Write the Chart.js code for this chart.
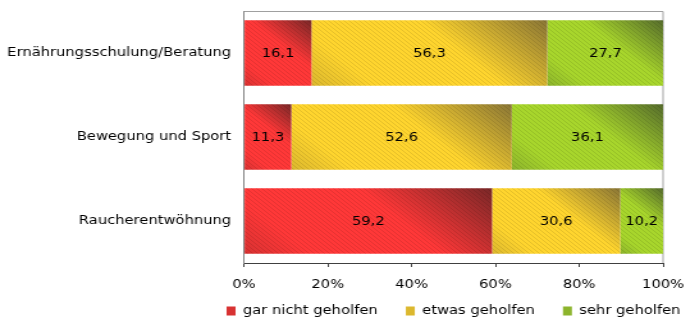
<!DOCTYPE html>
<html>
<head>
<meta charset="utf-8">
<script src="https://cdn.jsdelivr.net/npm/chart.js@4.4.1/dist/chart.umd.min.js"></script>
<style>
  html, body { margin: 0; padding: 0; background: #fff; overflow: hidden; width: 699px; height: 318px; }
  /* the original is stretched sideways, so draw narrow and widen */
  #wrap { position: relative; width: 546px; height: 347.3px; transform: scaleX(1.28); transform-origin: 0 0; }
</style>
</head>
<body>
<div id="wrap"><canvas id="myChart"></canvas></div>
<script>
const categories = ['Ernährungsschulung/Beratung', 'Bewegung und Sport', 'Raucherentwöhnung'];
const seriesNames = ['gar nicht geholfen', 'etwas geholfen', 'sehr geholfen'];
const garNicht = [16.1, 11.3, 59.2];
const etwas    = [56.3, 52.6, 30.6];
const sehr     = [27.7, 36.1, 10.2];
const tickLabels = ['0%', '20%', '40%', '60%', '80%', '100%'];

const seriesData = [garNicht, etwas, sehr];
const palette = [
  { light: '#ff3838', dark: '#7a2828', mid: '#d83232' },
  { light: '#ffd52e', dark: '#8a7636', mid: '#dcb82e' },
  { light: '#a8d62c', dark: '#566c2c', mid: '#8cb42c' },
];
const FONT = '"DejaVu Sans", Verdana, sans-serif';
const FSIZE = 11.5;

Chart.defaults.font.family = FONT;
Chart.defaults.font.size = FSIZE;
Chart.defaults.color = '#000';

// diagonal gradient per bar, positions from the scales
function barFill(c) {
  const p = palette[c.datasetIndex];
  if (c.type !== 'data') return p.mid;
  const chart = c.chart;
  const xs = chart.scales.x, ys = chart.scales.y;
  if (!chart.chartArea || !xs || !ys) return p.light;
  let start = 0;
  for (let d = 0; d < c.datasetIndex; d++) start += seriesData[d][c.dataIndex];
  const x0 = xs.getPixelForValue(start);
  const x1 = xs.getPixelForValue(start + seriesData[c.datasetIndex][c.dataIndex]);
  const yc = ys.getPixelForValue(c.dataIndex);
  const h = (ys.bottom - ys.top) / categories.length * 0.78;
  const L = (x1 - x0 + h) / 2;
  const g = chart.ctx.createLinearGradient(x0, yc + h / 2, x0 + L, yc + h / 2 - L);
  g.addColorStop(0, p.mid);
  g.addColorStop(0.2, p.light);
  g.addColorStop(0.6, p.light);
  g.addColorStop(1, p.dark);
  return g;
}

let texture = null;
function getTexture(ctx) {
  if (texture) return texture;
  const cv = document.createElement('canvas');
  cv.width = 4; cv.height = 4;
  const t = cv.getContext('2d');
  t.fillStyle = 'rgba(0,0,0,0.10)';
  for (let i = 0; i < 4; i++) t.fillRect(i, i, 1, 1);
  texture = ctx.createPattern(cv, 'repeat');
  return texture;
}

const framePlugin = {
  id: 'frame',
  afterLayout(chart) {
    // legend centred under the plot area, like the original
    const lg = chart.legend;
    const a = chart.chartArea;
    const dx = (a.left + a.right) / 2 - (lg.left + lg.right) / 2;
    lg.left += dx; lg.right += dx;
    const pad = lg.options.labels.padding;
    const h = lg.bottom - lg.top;
    lg.top = 311 - FSIZE / 2 - pad;
    lg.bottom = lg.top + h;
  },
  beforeDatasetsDraw(chart) {
    const { ctx, chartArea: a } = chart;
    ctx.save();
    ctx.strokeStyle = '#a0a0a0';
    ctx.lineWidth = 1;
    ctx.beginPath();
    ctx.moveTo(a.left, a.top + 0.5);
    ctx.lineTo(a.right, a.top + 0.5);
    ctx.lineTo(a.right, a.bottom);
    ctx.stroke();
    ctx.restore();
  }
};

const labelPlugin = {
  id: 'barLabels',
  afterDatasetsDraw(chart) {
    const ctx = chart.ctx;
    ctx.save();
    chart.data.datasets.forEach((ds, di) => {
      const meta = chart.getDatasetMeta(di);
      meta.data.forEach((el) => {
        const { x, y, base, height } = el.getProps(['x', 'y', 'base', 'height'], true);
        ctx.fillStyle = getTexture(ctx);
        ctx.fillRect(Math.min(base, x), y - height / 2, Math.abs(x - base), height);
      });
    });
    ctx.font = FSIZE + 'px ' + FONT;
    ctx.fillStyle = '#000';
    ctx.textAlign = 'center';
    ctx.textBaseline = 'middle';
    chart.data.datasets.forEach((ds, di) => {
      const meta = chart.getDatasetMeta(di);
      meta.data.forEach((el, i) => {
        const { x, y, base } = el.getProps(['x', 'y', 'base'], true);
        ctx.fillText(ds.data[i].toFixed(1).replace('.', ','), (x + base) / 2, y + 1);
      });
    });
    ctx.restore();
  }
};

const ctx = document.getElementById('myChart').getContext('2d');
new Chart(ctx, {
  type: 'bar',
  data: {
    labels: categories,
    datasets: seriesData.map((d, i) => ({
      label: seriesNames[i],
      data: d,
      backgroundColor: barFill,
      borderWidth: 0,
      categoryPercentage: 1,
      barPercentage: 0.78,
    })),
  },
  options: {
    indexAxis: 'y',
    responsive: true,
    maintainAspectRatio: false,
    animation: false,
    layout: { padding: { top: 11, right: 28, left: 0, bottom: 0 } },
    scales: {
      x: {
        stacked: true,
        min: 0,
        max: 100,
        ticks: {
          stepSize: 20,
          padding: 11.5,
          color: '#000',
          callback: (v, i) => tickLabels[i],
        },
        grid: { drawOnChartArea: false, color: '#404040', tickLength: 4 },
        border: { color: '#404040' },
      },
      y: {
        stacked: true,
        ticks: { padding: 10, color: '#000' },
        grid: { display: false, drawTicks: false },
        border: { color: '#808080' },
        afterFit: s => { s.width = 190.6; s.paddingTop = 0; s.paddingBottom = 0; },
      },
    },
    plugins: {
      legend: {
        position: 'bottom',
        labels: { boxWidth: 7, boxHeight: 9, padding: 22, color: '#000' },
      },
      tooltip: { enabled: false },
    },
  },
  plugins: [framePlugin, labelPlugin],
});
</script>
</body>
</html>
